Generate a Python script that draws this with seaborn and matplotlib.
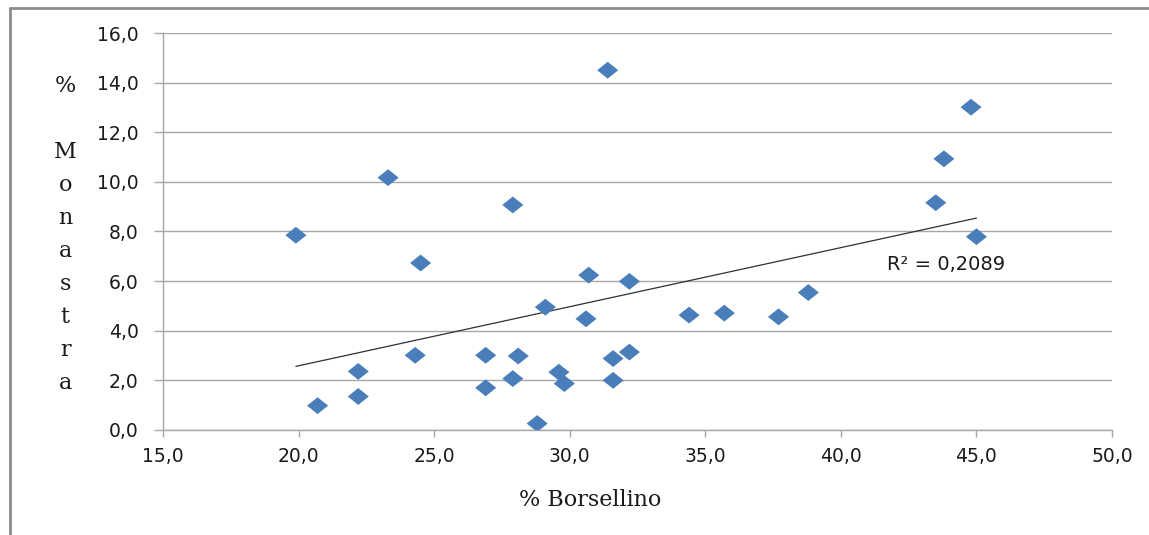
import matplotlib
matplotlib.use("Agg")
import numpy as np
import pandas as pd
import matplotlib.pyplot as plt
import seaborn as sns
from matplotlib.lines import Line2D
from matplotlib.path import Path
from matplotlib.ticker import FuncFormatter

# Data
borsellino = [19.9, 20.7, 22.2, 22.2, 23.3, 24.5, 24.3, 26.9, 26.9, 27.9,
              28.1, 27.9, 28.8, 29.1, 29.6, 29.8, 30.6, 30.7, 31.4, 31.6,
              31.6, 32.2, 32.2, 34.4, 35.7, 37.7, 38.8, 43.5, 43.8, 44.8, 45.0]
monastra = [7.85, 0.98, 2.36, 1.35, 10.17, 6.73, 3.01, 3.01, 1.70, 9.07,
            2.98, 2.07, 0.26, 4.95, 2.33, 1.87, 4.48, 6.24, 14.50, 2.88,
            2.00, 3.14, 5.99, 4.63, 4.71, 4.56, 5.54, 9.16, 10.93, 13.01, 7.79]
r2_label = "R² = 0,2089"
x_ticks = [15, 20, 25, 30, 35, 40, 45, 50]
y_ticks = [0, 2, 4, 6, 8, 10, 12, 14, 16]

BLUE = "#4a7ebb"
GRID = "#a6a6a6"
FRAME = "#8c8c8c"


def comma_fmt(v, pos):
    return f"{v:.1f}".replace(".", ",")


def main():
    sns.set_style("white")
    plt.rcParams["font.family"] = ["DejaVu Sans"]

    df = pd.DataFrame({"borsellino": borsellino, "monastra": monastra})

    fig = plt.figure(figsize=(11.49, 5.35), dpi=100)
    ax = fig.add_axes([0.1419, 0.1963, 0.8259, 0.742])

    # Excel-like diamond, slightly wider than tall
    diamond = Path([(-1, 0), (0, 0.8), (1, 0), (0, -0.8), (-1, 0)], closed=True)

    sns.regplot(data=df, x="borsellino", y="monastra", scatter=False, ci=None,
                truncate=True, line_kws=dict(color="#303030", lw=0.9), ax=ax)
    sns.scatterplot(data=df, x="borsellino", y="monastra", marker=diamond,
                    s=230, color=BLUE, edgecolor="none", linewidth=0,
                    ax=ax, zorder=3)

    ax.set_xlim(x_ticks[0], x_ticks[-1])
    ax.set_ylim(y_ticks[0], y_ticks[-1])
    ax.set_xticks(x_ticks)
    ax.set_yticks(y_ticks)
    ax.xaxis.set_major_formatter(FuncFormatter(comma_fmt))
    ax.yaxis.set_major_formatter(FuncFormatter(comma_fmt))

    ax.yaxis.grid(True, color=GRID, lw=1.0)
    ax.xaxis.grid(False)
    ax.set_axisbelow(True)
    for side in ["top", "right"]:
        ax.spines[side].set_visible(False)
    for side in ["left", "bottom"]:
        ax.spines[side].set_color(GRID)
        ax.spines[side].set_linewidth(1.0)

    ax.tick_params(axis="x", direction="out", length=5, width=1, color=GRID,
                   pad=7, labelsize=13.5, labelcolor="#1a1a1a")
    ax.tick_params(axis="y", direction="out", length=6.5, width=1, color=GRID,
                   pad=11, labelsize=13.5, labelcolor="#1a1a1a")
    ax.tick_params(bottom=True, left=True)

    ax.set_xlabel("% Borsellino", family=["DejaVu Serif"], fontsize=16,
                  color="#1a1a1a")
    ax.xaxis.set_label_coords(0.45, -0.176)
    ax.xaxis.label.set_va("center")

    ax.set_ylabel("%\n\nM\no\nn\na\ns\nt\nr\na", family=["DejaVu Serif"],
                  fontsize=16, rotation=0, linespacing=1.65, color="#1a1a1a",
                  ha="center", va="center", multialignment="center")
    ax.yaxis.set_label_coords(-0.103, 0.493)

    ax.text(41.7, 6.68, r2_label, fontsize=14, color="#1a1a1a",
            ha="left", va="center")

    # outer chart frame (top and left edges visible in the reference)
    fig.add_artist(Line2D([10 / 1149, 10 / 1149], [0, 1 - 8 / 535],
                          color=FRAME, lw=2, transform=fig.transFigure))
    fig.add_artist(Line2D([10 / 1149, 1], [1 - 8 / 535, 1 - 8 / 535],
                          color=FRAME, lw=2, transform=fig.transFigure))

    fig.savefig("out.png", dpi=100)


if __name__ == "__main__":
    main()
